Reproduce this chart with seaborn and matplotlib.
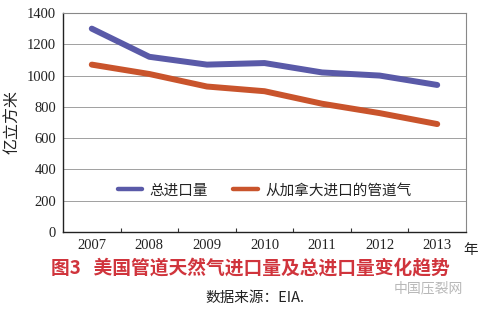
import matplotlib
matplotlib.use("Agg")
import matplotlib.pyplot as plt
import seaborn as sns
import pandas as pd
import numpy as np

years = [2007, 2008, 2009, 2010, 2011, 2012, 2013]
total_import = [1300, 1120, 1070, 1080, 1020, 1000, 940]
canada_pipeline = [1070, 1010, 930, 900, 820, 760, 690]
series_names = ["总进口量", "从加拿大进口的管道气"]
yticks = [0, 200, 400, 600, 800, 1000, 1200, 1400]

sns.set_theme(style="white")
plt.rcParams['font.family'] = ['Noto Sans CJK SC', 'DejaVu Sans']

df = pd.DataFrame({
    "year": years * 2,
    "value": total_import + canada_pipeline,
    "series": [series_names[0]] * len(years) + [series_names[1]] * len(years),
})

fig = plt.figure(figsize=(4.78, 3.24), dpi=100)
ax = fig.add_axes([63/478, 1 - 232/324, (466-63)/478, (232-13)/324])

sns.lineplot(data=df, x="year", y="value", hue="series",
             palette=["#5a5aa8", "#c9542c"], linewidth=4.3, ax=ax,
             legend=True, solid_capstyle="round")

ax.set_xlim(2006.5, 2013.5)
ax.set_ylim(0, 1400)
ax.set_yticks(yticks)
ax.set_xticks(years)
ax.set_xticks([y + 0.5 for y in years[:-1]], minor=True)
serif = ['Liberation Serif', 'DejaVu Serif']
ax.set_yticklabels([str(v) for v in yticks], family=serif, fontsize=10.5, color="#222222")
ax.set_xticklabels([str(v) for v in years], family=serif, fontsize=10.5, color="#222222")
ax.tick_params(axis="both", which="major", length=0, pad=5)
ax.tick_params(axis="x", which="minor", direction="in", length=3, color="#333333", width=0.8, bottom=True)
ax.grid(axis="y", color="#a0a0a0", linewidth=0.7)
ax.set_axisbelow(True)
for s in ["left", "bottom"]:
    ax.spines[s].set_color("#222222")
    ax.spines[s].set_linewidth(1.0)
for s in ["top", "right"]:
    ax.spines[s].set_color("#888888")
    ax.spines[s].set_linewidth(0.8)

ax.set_xlabel("")
ax.set_ylabel("亿立方米", fontsize=11.5, color="#222222", labelpad=4)

leg = ax.legend(loc="center", bbox_to_anchor=(0.5, 0.19), ncol=2, frameon=False,
                fontsize=10.5, handlelength=1.7, columnspacing=1.7, handletextpad=0.5)
for t in leg.get_texts():
    t.set_color("#222222")
for h in leg.get_lines():
    h.set_linewidth(3.2)

fig.text(471/478, 1 - 250/324, "年", fontsize=10.5, ha="center", va="center", color="#222222")
fig.text(250/478, 1 - 269/324, "图3   美国管道天然气进口量及总进口量变化趋势", fontsize=13.5,
         fontweight="bold", ha="center", va="center", color="#d0343c")
fig.text(255/478, 1 - 298/324, "数据来源：EIA.", fontsize=10.5, ha="center", va="center", color="#222222")
fig.text(428/478, 1 - 288/324, "中国压裂网", fontsize=10, ha="center", va="center", color="#b8b8b8")

fig.savefig("out.png", dpi=100, facecolor="white")
